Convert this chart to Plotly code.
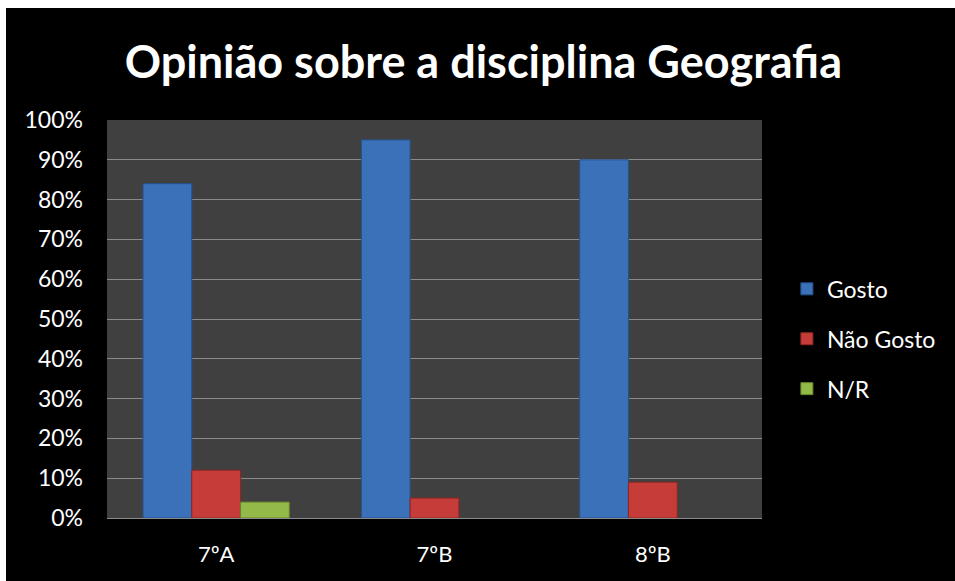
import plotly.graph_objects as go

categories = ["7ºA", "7ºB", "8ºB"]
gosto = [0.84, 0.95, 0.90]
nao_gosto = [0.12, 0.05, 0.09]
nr = [0.04, None, None]
series_names = ["Gosto", "Não Gosto", "N/R"]
y_ticks = [0, 0.1, 0.2, 0.3, 0.4, 0.5, 0.6, 0.7, 0.8, 0.9, 1.0]
y_labels = ["0%", "10%", "20%", "30%", "40%", "50%", "60%", "70%", "80%", "90%", "100%"]

colors = ["#3a71b9", "#c63c38", "#93b948"]
lines = ["#24528e", "#8e2623", "#67852c"]

fig = go.Figure()
for i, (name, vals) in enumerate(zip(series_names, [gosto, nao_gosto, nr])):
    fig.add_trace(go.Bar(
        x=categories, y=vals, name=name, legendgroup=name,
        marker=dict(color=colors[i], line=dict(color=lines[i], width=1)),
    ))

FONT = "Lato, 'Open Sans', sans-serif"
fig.update_layout(
    width=949, height=573,
    paper_bgcolor="#000000", plot_bgcolor="#404040",
    margin=dict(l=101, r=193, t=112, b=63),
    barmode="group", bargap=0.33, bargroupgap=0,
    title=dict(text="<b>Opinião sobre a disciplina Geografia</b>",
               x=0.503, xanchor="center", y=0.905, yanchor="middle",
               font=dict(family=FONT, size=45, color="#ffffff")),
    font=dict(family=FONT, color="#ffffff"),
    legend=dict(x=1.038, xanchor="left", xref="paper", y=0.45, yanchor="middle",
                font=dict(family=FONT, size=23, color="#ffffff"),
                traceorder="grouped", tracegroupgap=17,
                bgcolor="rgba(0,0,0,0)", itemwidth=30),
    showlegend=True,
)
fig.update_xaxes(showgrid=False, showline=True, linecolor="#8a8a8a", linewidth=1,
                 tickfont=dict(family=FONT, size=22, color="#ffffff"),
                 ticks="", ticklabelstandoff=17)
fig.update_yaxes(range=[0, 1.0], tickvals=y_ticks, ticktext=y_labels,
                 showgrid=True, gridcolor="#8a8a8a", gridwidth=1,
                 zeroline=False, showline=False,
                 tickfont=dict(family=FONT, size=23, color="#ffffff"),
                 ticks="", ticklabelstandoff=23)

fig.write_html("out.html", post_script="document.body.style.margin='8px 0 0 6px';")
